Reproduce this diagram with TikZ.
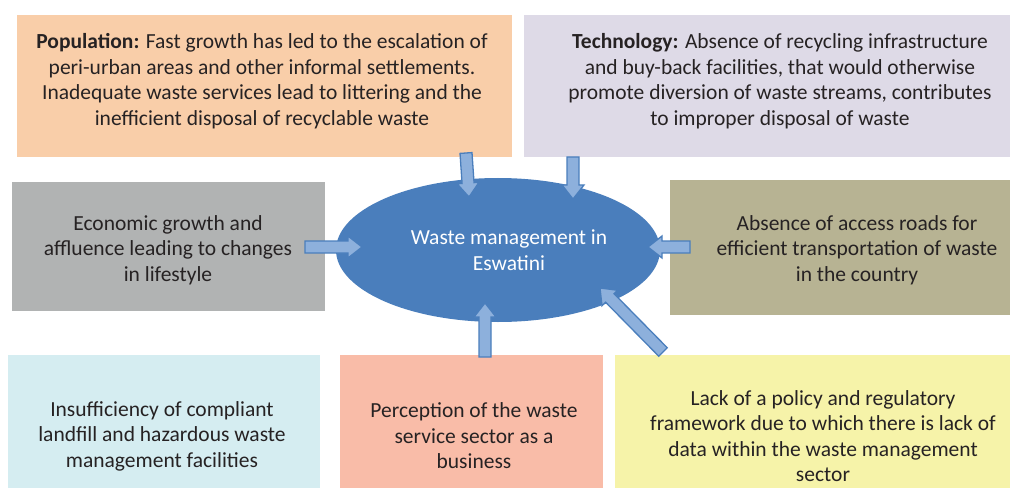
\documentclass[tikz,border=0pt]{standalone}
\usepackage{fontspec}
\setmainfont{Carlito}
\usetikzlibrary{shapes.geometric,calc}
\definecolor{cpop}{HTML}{F9CEA9}
\definecolor{ctech}{HTML}{DEDAE7}
\definecolor{cecon}{HTML}{B1B3B3}
\definecolor{croad}{HTML}{B7B393}
\definecolor{cins}{HTML}{D5EDF1}
\definecolor{cperc}{HTML}{F9BCA8}
\definecolor{cpol}{HTML}{F6F3A9}
\definecolor{cell}{HTML}{4A7EBC}
\definecolor{carfill}{HTML}{8DB0DC}
\definecolor{carline}{HTML}{4A7EBC}
\definecolor{ctext}{HTML}{262223}
\tikzset{
  box/.style={draw=none, inner sep=0pt, align=center, text=ctext, font=\fontsize{21.5}{25.5}\selectfont},
  barrowstyle/.style={fill=carfill, draw=carline, line width=1.3pt, line join=miter},
}
\newcommand{\barrow}[2]{%
  \coordinate (hb) at ($(#2)!14pt!(#1)$);
  \filldraw[barrowstyle] ($(#1)!6pt!90:(#2)$) -- ($(hb)!6pt!90:(#2)$) -- ($(hb)!11pt!90:(#2)$) -- (#2)
    -- ($(hb)!11pt!-90:(#2)$) -- ($(hb)!6pt!-90:(#2)$) -- ($(#1)!6pt!-90:(#2)$) -- cycle;
}
\begin{document}
\begin{tikzpicture}[x=1pt,y=-1pt]
\useasboundingbox (0,0) rectangle (1011,489);
% boxes
\fill[cpop] (17,15) rectangle (512,157);
\fill[ctech] (524,15) rectangle (1010,157);
\fill[cecon] (12,182) rectangle (325,311);
\fill[croad] (670,180) rectangle (1010,315);
\fill[cins] (8,355) rectangle (320,488);
\fill[cperc] (340,355) rectangle (603,488);
\fill[cpol] (615,355) rectangle (1010,488);
\node[box] (pop) at (262,81) {\textbf{Population:} Fast growth has led to the escalation of\\peri-urban areas and other informal settlements.\\Inadequate waste services lead to littering and the\\inefficient disposal of recyclable waste};
\node[box] (tech) at (780,81) {\textbf{Technology:} Absence of recycling infrastructure\\and buy-back facilities, that would otherwise\\promote diversion of waste streams, contributes\\to improper disposal of waste};
\node[box] (econ) at (168,250) {Economic growth and\\affluence leading to changes\\in lifestyle};
\node[box] (road) at (857,250) {Absence of access roads for\\efficient transportation of waste\\in the country};
\node[box] (ins) at (162,436) {Insufficiency of compliant\\landfill and hazardous waste\\management facilities};
\node[box] (perc) at (474,436) {Perception of the waste\\service sector as a\\business};
\node[box] (pol) at (823,436) {Lack of a policy and regulatory\\framework due to which there is lack of\\data within the waste management\\sector};
% ellipse
\node[ellipse, fill=cell, minimum width=324pt, minimum height=144pt, inner sep=0pt] (wm) at (498,250) {};
\node[box, text=white] (wmtext) at (509,250) {Waste management in\\Eswatini};
% arrow coordinates
\coordinate (t1) at (466,153); \coordinate (h1) at (469,197);
\coordinate (t2) at (573,157); \coordinate (h2) at (573,199);
\coordinate (t3) at (305,247); \coordinate (h3) at (362,247);
\coordinate (t4) at (690,247); \coordinate (h4) at (648,247);
\coordinate (t5) at (485,357); \coordinate (h5) at (485,303);
\coordinate (t6) at (663,352); \coordinate (h6) at (600,288);
\barrow{t1}{h1}
\barrow{t2}{h2}
\barrow{t3}{h3}
\barrow{t4}{h4}
\barrow{t5}{h5}
\barrow{t6}{h6}
\end{tikzpicture}
\end{document}
